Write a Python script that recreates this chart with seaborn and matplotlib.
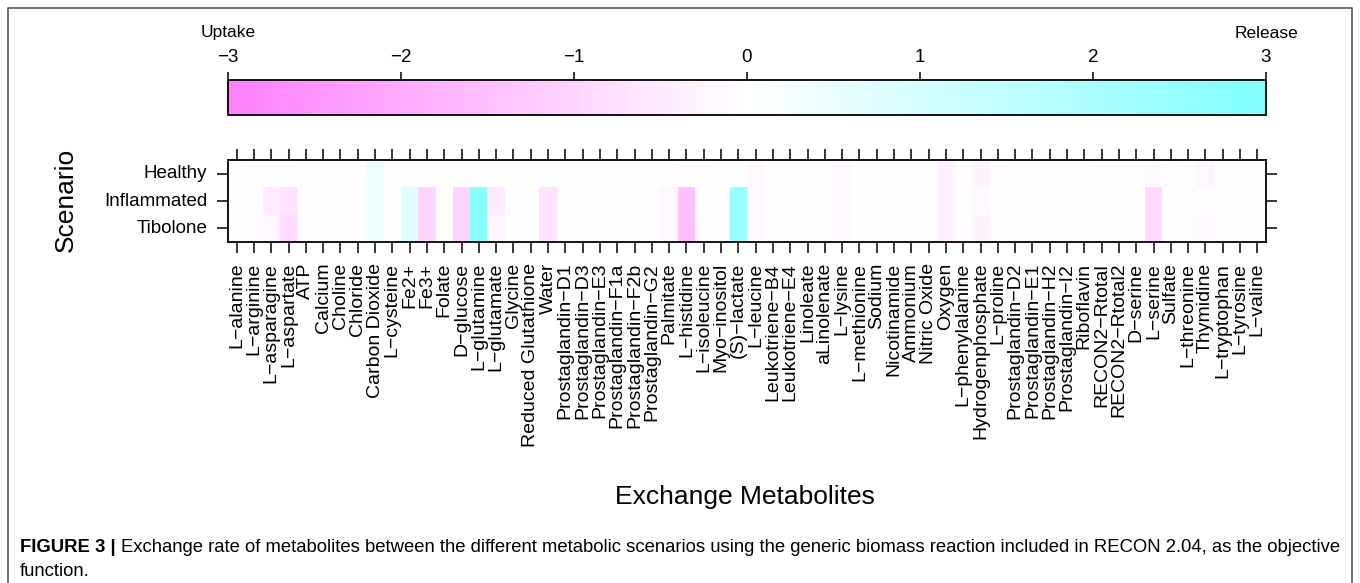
import pandas as pd
import seaborn as sns
import matplotlib.pyplot as plt
from matplotlib import font_manager
from matplotlib.colors import LinearSegmentedColormap
from matplotlib.lines import Line2D

# Data (exchange rates, uptake < 0 < release)
scenarios = ['Healthy', 'Inflammated', 'Tibolone']
metabolites = ['L\u2212alanine', 'L\u2212arginine', 'L\u2212asparagine', 'L\u2212aspartate', 'ATP',
               'Calcium', 'Choline', 'Chloride', 'Carbon Dioxide', 'L\u2212cysteine', 'Fe2+', 'Fe3+',
               'Folate', 'D\u2212glucose', 'L\u2212glutamine', 'L\u2212glutamate', 'Glycine',
               'Reduced Glutathione', 'Water', 'Prostaglandin\u2212D1', 'Prostaglandin\u2212D3',
               'Prostaglandin\u2212E3', 'Prostaglandin\u2212F1a', 'Prostaglandin\u2212F2b',
               'Prostaglandin\u2212G2', 'Palmitate', 'L\u2212histidine', 'L\u2212isoleucine',
               'Myo\u2212inositol', '(S)\u2212lactate', 'L\u2212leucine', 'Leukotriene\u2212B4',
               'Leukotriene\u2212E4', 'Linoleate', 'aLinolenate', 'L\u2212lysine', 'L\u2212methionine',
               'Sodium', 'Nicotinamide', 'Ammonium', 'Nitric Oxide', 'Oxygen', 'L\u2212phenylalanine',
               'Hydrogenphosphate', 'L\u2212proline', 'Prostaglandin\u2212D2', 'Prostaglandin\u2212E1',
               'Prostaglandin\u2212H2', 'Prostaglandin\u2212I2', 'Riboflavin', 'RECON2\u2212Rtotal',
               'RECON2\u2212Rtotal2', 'D\u2212serine', 'L\u2212serine', 'Sulfate', 'L\u2212threonine',
               'Thymidine', 'L\u2212tryptophan', 'L\u2212tyrosine', 'L\u2212valine']

healthy = [-0.04, -0.08, -0.08, -0.08, -0.04, -0.04, -0.04, -0.04, 0.4, -0.04,
           -0.04, -0.04, -0.04, -0.04, -0.04, -0.04, -0.04, -0.04, -0.04, -0.04,
           -0.04, -0.04, -0.04, -0.04, -0.04, -0.06, -0.1, -0.1, -0.04, 0.05,
           -0.15, -0.04, -0.04, -0.04, -0.04, -0.15, -0.04, -0.04, -0.04, -0.04,
           -0.04, -0.35, -0.06, -0.3, -0.1, -0.04, -0.04, -0.04, -0.04, -0.04,
           -0.08, -0.08, -0.08, -0.12, -0.04, -0.08, -0.25, -0.05, -0.06, -0.05]
inflammated = [-0.03, -0.08, -0.5, -0.7, -0.04, -0.04, -0.04, -0.04, 0.4, -0.04,
               0.8, -1.0, -0.04, -1.0, 2.8, -0.5, -0.04, -0.04, -0.7, -0.04,
               -0.04, -0.04, -0.04, -0.04, -0.04, -0.2, -1.5, -0.06, -0.04, 2.5,
               -0.15, -0.04, -0.04, -0.04, -0.04, -0.15, -0.04, -0.04, -0.04, -0.04,
               -0.04, -0.35, -0.03, -0.15, -0.04, -0.04, -0.04, -0.04, -0.04, -0.04,
               -0.08, -0.08, -0.04, -0.9, -0.04, -0.08, -0.05, -0.05, -0.06, -0.04]
tibolone = [-0.03, -0.08, -0.2, -0.9, -0.04, -0.04, -0.04, -0.04, 0.4, -0.04,
            0.8, -1.0, -0.04, -1.0, 2.8, -0.25, -0.04, -0.04, -0.7, -0.04,
            -0.04, -0.04, -0.04, -0.04, -0.04, -0.2, -1.5, -0.1, -0.04, 2.5,
            -0.15, -0.04, -0.04, -0.04, -0.04, -0.15, -0.04, -0.04, -0.04, -0.04,
            -0.04, -0.35, -0.06, -0.3, -0.04, -0.04, -0.04, -0.04, -0.04, -0.04,
            -0.08, -0.08, -0.04, -0.9, -0.04, -0.08, -0.12, -0.05, -0.06, -0.06]

cbar_ticks = [-3, -2, -1, 0, 1, 2, 3]

df = pd.DataFrame([healthy, inflammated, tibolone], index=scenarios, columns=metabolites)

plt.rcParams['font.family'] = ['Liberation Sans', 'DejaVu Sans']
installed = {f.name for f in font_manager.fontManager.ttflist}
cap_font = 'Liberation Sans Narrow' if 'Liberation Sans Narrow' in installed else 'Liberation Sans'
cap_size = 14 if cap_font == 'Liberation Sans Narrow' else 13.3

W, H = 1360, 583
fig = plt.figure(figsize=(W / 100, H / 100), dpi=100)

def px(x0, y0, x1, y1):
    return [x0 / W, 1 - y1 / H, (x1 - x0) / W, (y1 - y0) / H]

ax = fig.add_axes(px(228, 160, 1266, 242))
cax = fig.add_axes(px(228, 80, 1266, 115))

# R cm.colors, reversed: magenta (uptake) -> white -> cyan (release)
cmap = LinearSegmentedColormap.from_list('cm', ['#FF80FF', '#FFFFFF', '#80FFFF'])

sns.heatmap(df, ax=ax, cbar_ax=cax, cmap=cmap, vmin=-3, vmax=3,
            xticklabels=True, yticklabels=True,
            cbar_kws={'orientation': 'horizontal', 'ticks': cbar_ticks})

for sp in ax.spines.values():
    sp.set_visible(True)
    sp.set_linewidth(1.3)
    sp.set_color('black')
ax.tick_params(axis='x', bottom=True, top=True, labelbottom=True, labeltop=False,
               length=8, width=1.1, pad=7, labelsize=14, labelrotation=90)
ax.tick_params(axis='y', left=True, right=True, labelleft=True, labelright=False,
               length=8, width=1.1, pad=7, labelsize=13.5, labelrotation=0)
ax.set_xlabel('')
ax.set_ylabel('')

cbar = ax.collections[0].colorbar
cbar.outline.set_visible(True)
cbar.outline.set_linewidth(1.3)
cbar.outline.set_edgecolor('black')
cax.xaxis.set_ticks_position('top')
cax.xaxis.set_label_position('top')
cax.tick_params(axis='x', top=True, bottom=False, labeltop=True, labelbottom=False,
                length=6, width=1.1, pad=4, labelsize=13.5)

fig.text(228 / W, 1 - 33 / H, 'Uptake', ha='center', va='center', fontsize=12.5)
fig.text(1266 / W, 1 - 33 / H, 'Release', ha='center', va='center', fontsize=12.5)
fig.text(66 / W, 1 - 200 / H, 'Scenario', rotation=90, ha='center', va='center', fontsize=19)
fig.text(745 / W, 1 - 497 / H, 'Exchange Metabolites', ha='center', va='center', fontsize=19)

# caption
t1 = fig.text(20 / W, 1 - 548 / H, 'FIGURE 3 |', ha='left', va='center',
              fontsize=cap_size, fontweight='bold', family=cap_font)
fig.canvas.draw()
bb = t1.get_window_extent()
fig.text((bb.x1 + 5) / W, 1 - 548 / H,
         'Exchange rate of metabolites between the different metabolic scenarios using the generic '
         'biomass reaction included in RECON 2.04, as the objective',
         ha='left', va='center', fontsize=cap_size, family=cap_font)
fig.text(20 / W, 1 - 572 / H, 'function.', ha='left', va='center', fontsize=cap_size, family=cap_font)

# frame around the figure panel
fig.add_artist(Line2D([8 / W, 8 / W, 1352 / W, 1352 / W], [0, 1 - 8 / H, 1 - 8 / H, 0],
                      transform=fig.transFigure, color='#555555', linewidth=1.2))

plt.savefig('out.png', dpi=100)
